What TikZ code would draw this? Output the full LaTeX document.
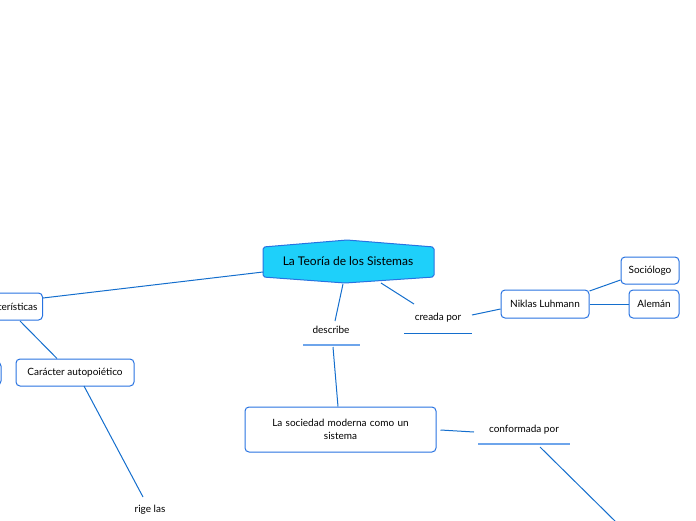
\documentclass[tikz,border=0pt]{standalone}
\usepackage{fontspec}
\setmainfont{Lato}
\definecolor{lnblue}{RGB}{20,110,205}
\definecolor{bxblue}{RGB}{40,115,225}
\definecolor{ltblue}{RGB}{110,165,235}
\definecolor{hexfill}{RGB}{30,208,250}
\tikzset{
  box/.style={draw=bxblue, line width=1pt, rounded corners=4pt, fill=white, align=center, font=\fontsize{10}{12}\selectfont, inner sep=0pt},
  lbl/.style={font=\fontsize{10}{12}\selectfont, inner sep=0pt},
  conn/.style={draw=lnblue, line width=1pt},
  uline/.style={draw=ltblue, line width=1.5pt},
  dline/.style={draw=lnblue, line width=1pt}
}
\begin{document}
\begin{tikzpicture}[x=1pt,y=-1pt]
\useasboundingbox (0,0) rectangle (696,520);
\clip (0,0) rectangle (696,520);
% central hexagon
\draw[draw=bxblue, line width=1pt, fill=hexfill, rounded corners=2pt]
  (263,247) -- (347,240) -- (434,247) -- (434,277) -- (345,283) -- (263,277) -- cycle;
\node[lbl, font=\fontsize{12}{14}\selectfont] (central) at (348,261) {La Teoría de los Sistemas};
\coordinate (cL) at (263,272);
\coordinate (cB) at (343,284);
\coordinate (cR) at (381,283);

% Caracteristicas box (cut off left)
\node[box, anchor=east, inner xsep=5pt, minimum height=27pt] (carac) at (43,306.5) {Características};
% box at left edge
\node[box, minimum width=60pt, minimum height=23pt] (leftbox) at (-29,373.5) {};
% Caracter autopoietico
\node[box, minimum width=118pt, minimum height=27pt] (autop) at (75,372.5) {Carácter autopoiético};
% rige las
\node[lbl] (rige) at (150,510) {rige las};
\coordinate (rigeT) at (143,497);

% describe
\node[lbl] (describe) at (331,330) {describe};
\coordinate (dsA) at (303,345); \coordinate (dsB) at (360,345);
\coordinate (dsT) at (335,321); \coordinate (dsU) at (333,347);
% creada por
\node[lbl] (creada) at (438,318) {creada por};
\coordinate (crA) at (404,333); \coordinate (crB) at (472,333);
\coordinate (crT) at (414,304); \coordinate (crR) at (472,315);

% Niklas
\node[box, minimum width=88pt, minimum height=28pt] (niklas) at (545,304) {Niklas Luhmann};
\node[box, minimum width=58pt, minimum height=27pt] (soc) at (650,270.5) {Sociólogo};
\node[box, minimum width=50pt, minimum height=28pt] (alem) at (654,304) {Alemán};

% sociedad
\node[box, minimum width=191pt, minimum height=45pt, text width=185pt] (socied) at (340.5,429.5) {La sociedad moderna como un\\[1pt] sistema};
% conformada por
\node[lbl] (conf) at (524,430) {conformada por};
\coordinate (cfA) at (478,444); \coordinate (cfB) at (570,444);
\coordinate (cfL) at (474,432); \coordinate (cfU) at (540,447);
\coordinate (cfEnd) at (616,522);

% connectors
\draw[conn] (cL) -- (carac.east |- 0,298);
\draw[conn] (20,321) -- (autop.north -| 57,0);
\draw[conn] (84,386) -- (rigeT);
\draw[conn] (cB) -- (dsT);
\draw[uline] (dsA) -- (dsB);
\draw[conn] (dsU) -- (socied.north -| 338,0);
\draw[conn] (cR) -- (crT);
\draw[dline] (crA) -- (crB);
\draw[conn] (crR) -- (niklas.west |- 0,309);
\draw[conn] (niklas.east |- 0,291) -- (soc.west |- 0,280);
\draw[conn] (niklas.east) -- (alem.west);
\draw[conn] (socied.east |- 0,430) ++(4,0) -- (cfL);
\draw[uline] (cfA) -- (cfB);
\draw[conn] (cfU) -- (cfEnd);
\end{tikzpicture}
\end{document}
